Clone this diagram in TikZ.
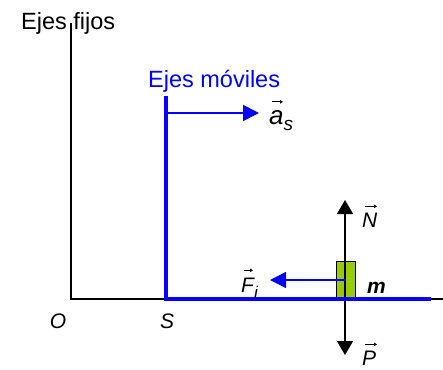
\documentclass[tikz,border=0pt]{standalone}
\usepackage{fontspec}
\setmainfont{Liberation Sans}
\usetikzlibrary{arrows.meta}
\definecolor{mblue}{RGB}{0,0,255}
\definecolor{blockgreen}{RGB}{153,204,0}
\begin{document}
\begin{tikzpicture}[x=1pt,y=-1pt,
  font=\fontsize{21}{25}\selectfont,
  titlefont/.style={font=\fontsize{23.5}{28}\selectfont},
  axis/.style={line width=1.3pt},
  blueaxis/.style={mblue, line width=3.8pt},
  lbl/.style={inner sep=0pt},
  bluevec/.style={mblue, line width=1.8pt, -{Triangle[length=16pt,width=16pt]}},
  forcevec/.style={line width=1.6pt, {Triangle[length=14pt,width=16pt]}-{Triangle[length=14pt,width=16pt]}},
  vecmark/.style={line width=0.7pt, -{Triangle[length=3pt,width=3.5pt]}},
  blockstyle/.style={draw, fill=blockgreen, line width=1pt, minimum width=19pt, minimum height=38pt, inner sep=0pt}]
\useasboundingbox (0,0) rectangle (443,369);
% fixed axes
\node[lbl, titlefont, anchor=base west] (fijos) at (21,30) {Ejes fijos};
\coordinate (O) at (71,299);
\coordinate (Ytop) at (71,23);
\coordinate (Xend) at (443,299);
\draw[axis] (Ytop) -- (O) -- (Xend);
\node[lbl, anchor=base] (Olab) at (58,328) {\itshape O};
% moving axes
\node[lbl, titlefont, anchor=base west, text=mblue] (moviles) at (148,87) {Ejes móviles};
\coordinate (Stop) at (166,96);
\coordinate (S) at (166,299);
\coordinate (Send) at (431,299);
\coordinate (asstart) at (166,113);
\coordinate (asend) at (259,113);
\draw[bluevec] (asstart) -- (asend);
\node[lbl, anchor=base west, font=\fontsize{26}{30}\selectfont] (aslab) at (269,124)
  {\itshape a\raisebox{-6pt}{\fontsize{19}{19}\selectfont\itshape s}};
\draw[vecmark] ([shift={(3,-8)}]aslab.north west) -- ([shift={(14,-8)}]aslab.north west);
\node[lbl, anchor=base] (Slab) at (167,328) {\itshape S};
% block and forces
\node[blockstyle] (blk) at (345.5,280) {};
\coordinate (Ntip) at (345,200);
\coordinate (Ptip) at (345,355);
\draw[forcevec] (Ptip) -- (Ntip);
\coordinate (Ftip) at (270,280);
\draw[bluevec, line width=1.5pt] (blk.center) -- (Ftip);
\draw[blueaxis] (Stop) -- (S) -- (Send);
\node[lbl, anchor=base west] (Nlab) at (362,227) {\itshape N};
\draw[vecmark] ([shift={(3,-6)}]Nlab.north west) -- ([shift={(15,-6)}]Nlab.north west);
\node[lbl, anchor=base west] (Plab) at (362,365) {\itshape P};
\draw[vecmark] ([shift={(3,-6)}]Plab.north west) -- ([shift={(15,-6)}]Plab.north west);
\node[lbl, anchor=base west] (Flab) at (241,292)
  {\itshape F\raisebox{-6pt}{\fontsize{17}{17}\selectfont\itshape i}};
\draw[vecmark] ([shift={(3,-7)}]Flab.north west) -- ([shift={(12,-7)}]Flab.north west);
\node[lbl, anchor=base west] (mlab) at (367,293) {\bfseries\itshape m};
\end{tikzpicture}
\end{document}
